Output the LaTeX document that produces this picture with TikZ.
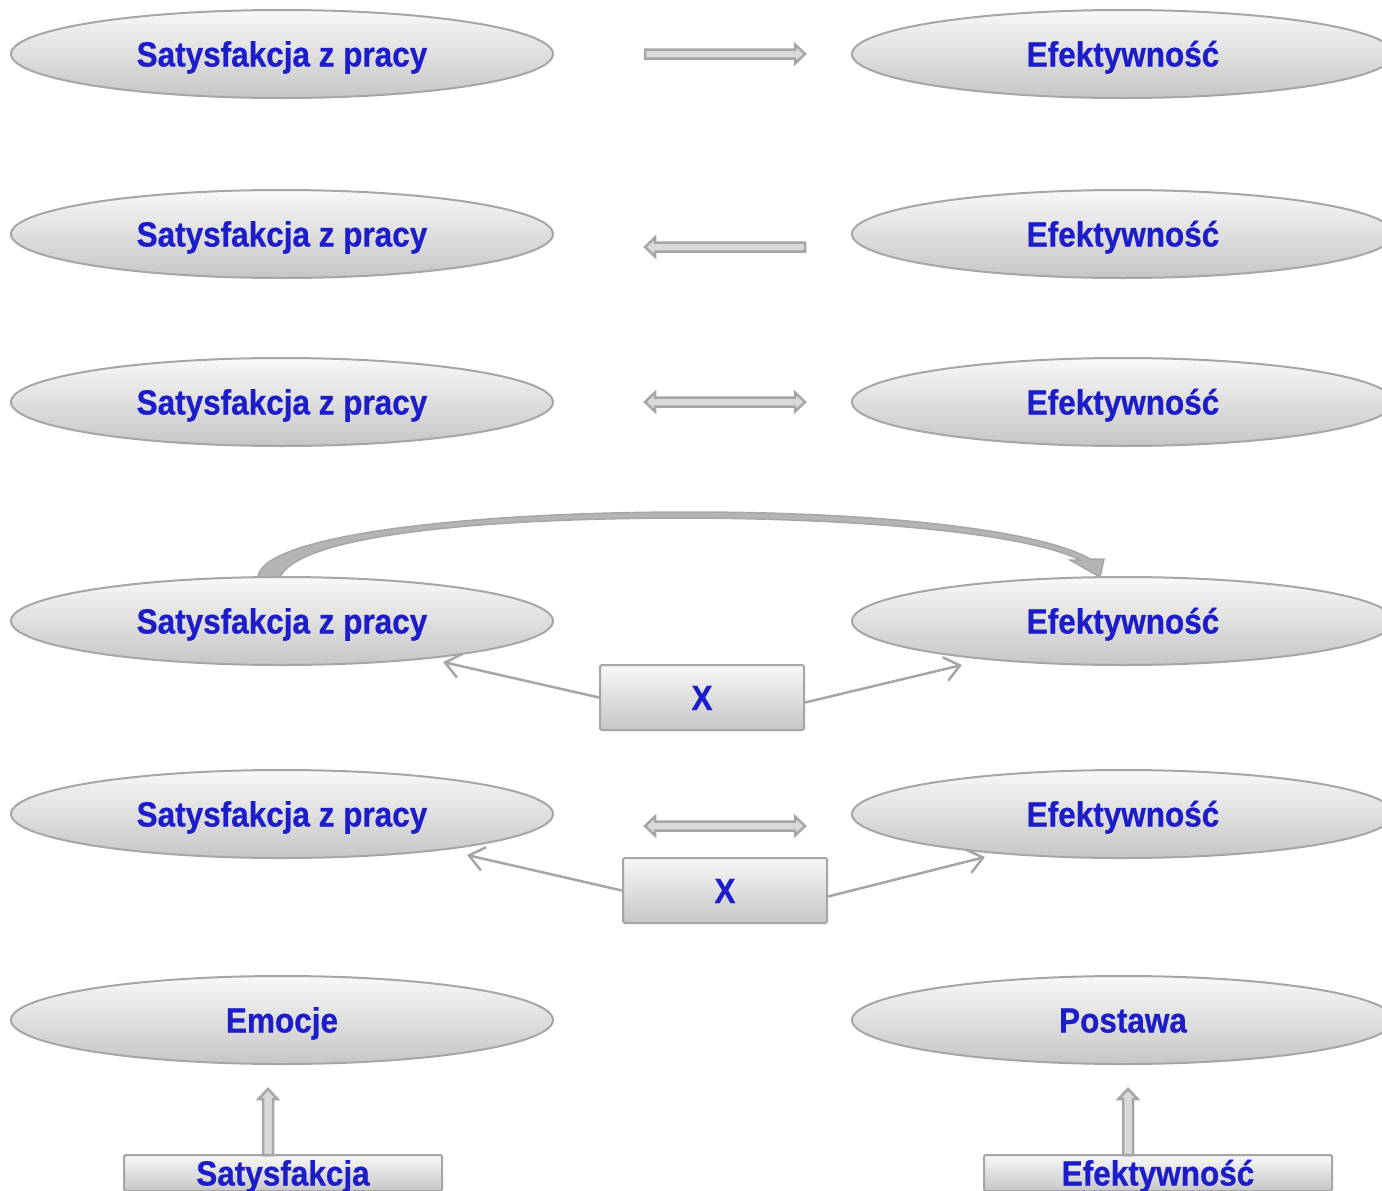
\documentclass[tikz,border=0pt]{standalone}
\usepackage{fontspec}
\newfontfamily\labfont[FakeStretch=0.9,FakeBold=0.6]{Liberation Sans}
\usetikzlibrary{shapes.geometric,arrows.meta,calc}
\definecolor{edge}{HTML}{A6A6A6}
\definecolor{fillgray}{HTML}{DADADA}
\definecolor{bandgray}{HTML}{B4B4B4}
\definecolor{ink}{HTML}{1C1CC8}
\definecolor{shtop}{HTML}{F8F8F8}
\definecolor{shbot}{HTML}{C6C6C6}
\tikzset{
  labeltext/.style={font=\labfont\bfseries\fontsize{35}{40}\selectfont, text=ink, text height=30pt, text depth=5pt},
  oval/.style={ellipse, draw=edge, line width=2pt, top color=shtop, bottom color=shbot,
    minimum width=542pt, minimum height=88pt, inner sep=0pt, labeltext},
  tag/.style={rectangle, draw=edge, line width=2pt, rounded corners=1.5pt, top color=shtop,
    bottom color=shbot, inner sep=0pt, labeltext},
  link/.style={draw=edge, line width=2.5pt, -{Straight Barb[length=15pt,width=24pt]}},
  block/.style={draw=edge, fill=fillgray, line width=2.5pt, line join=miter},
  rarr/.pic={\path[block] (-80,-4.5) -- (70,-4.5) -- (70,-9.5) -- (80,0) -- (70,9.5) -- (70,4.5) -- (-80,4.5) -- cycle;},
  larr/.pic={\path[block] (80,-4.5) -- (-70,-4.5) -- (-70,-9.5) -- (-80,0) -- (-70,9.5) -- (-70,4.5) -- (80,4.5) -- cycle;},
  barr/.pic={\path[block] (-70,-4.5) -- (70,-4.5) -- (70,-9.5) -- (80,0) -- (70,9.5) -- (70,4.5)
     -- (-70,4.5) -- (-70,9.5) -- (-80,0) -- (-70,-9.5) -- cycle;},
  uarr/.pic={\path[block] (-5,33) -- (-5,-23) -- (-9.5,-23) -- (0,-33) -- (9.5,-23) -- (5,-23) -- (5,33) -- cycle;},
}
\begin{document}
\begin{tikzpicture}[x=1pt,y=-1pt]
\useasboundingbox (0,0) rectangle (1382,1191);
\clip (0,0) rectangle (1382,1191);

% rows of ellipses
\node[oval] (s1) at (282,54) {Satysfakcja z pracy};
\node[oval] (e1) at (1123,54) {Efektywność};
\node[oval] (s2) at (282,234) {Satysfakcja z pracy};
\node[oval] (e2) at (1123,234) {Efektywność};
\node[oval] (s3) at (282,402) {Satysfakcja z pracy};
\node[oval] (e3) at (1123,402) {Efektywność};
\node[oval] (s4) at (282,621) {Satysfakcja z pracy};
\node[oval] (e4) at (1123,621) {Efektywność};
\node[oval] (s5) at (282,814) {Satysfakcja z pracy};
\node[oval] (e5) at (1123,814) {Efektywność};
\node[oval] (emo) at (282,1020) {Emocje};
\node[oval] (pos) at (1123,1020) {Postawa};

% block arrows between the ellipses
\pic at (725,54) {rarr};
\pic at (725,247) {larr};
\pic at (725,402) {barr};
\pic at (725,826) {barr};

% curved arrow over the fourth row
\path[draw=edge, fill=bandgray, line width=1.5pt, line join=miter]
  (258,577) .. controls (262,535) and (470,512) .. (690,512)
  .. controls (880,512) and (1040,530) .. (1090,559)
  -- (1104,559) -- (1100,577) -- (1070,560) -- (1080,560)
  .. controls (1030,535) and (880,519) .. (690,518)
  .. controls (480,518) and (300,535) .. (280,577) -- cycle;

% third variable boxes
\node[tag, minimum width=204pt, minimum height=65pt] (x1) at (702,697.5) {X};
\node[tag, minimum width=204pt, minimum height=65pt] (x2) at (725,890.5) {X};
\coordinate (x1l) at (443,662);
\coordinate (x1r) at (962,665);
\coordinate (x2l) at (467,855);
\coordinate (x2r) at (985,857);
\draw[link] (x1.west) -- (x1l);
\draw[link] ($(x1.east)+(0,5)$) -- (x1r);
\draw[link] (x2.west) -- (x2l);
\draw[link] ($(x2.east)+(0,6)$) -- (x2r);

% bottom boxes with upward arrows
\node[tag, minimum width=318pt, minimum height=36pt] (sat) at (283,1173) {Satysfakcja};
\node[tag, minimum width=348pt, minimum height=36pt] (eff) at (1158,1173) {Efektywność};
\pic at (268,1122) {uarr};
\pic at (1128,1122) {uarr};
\end{tikzpicture}
\end{document}
